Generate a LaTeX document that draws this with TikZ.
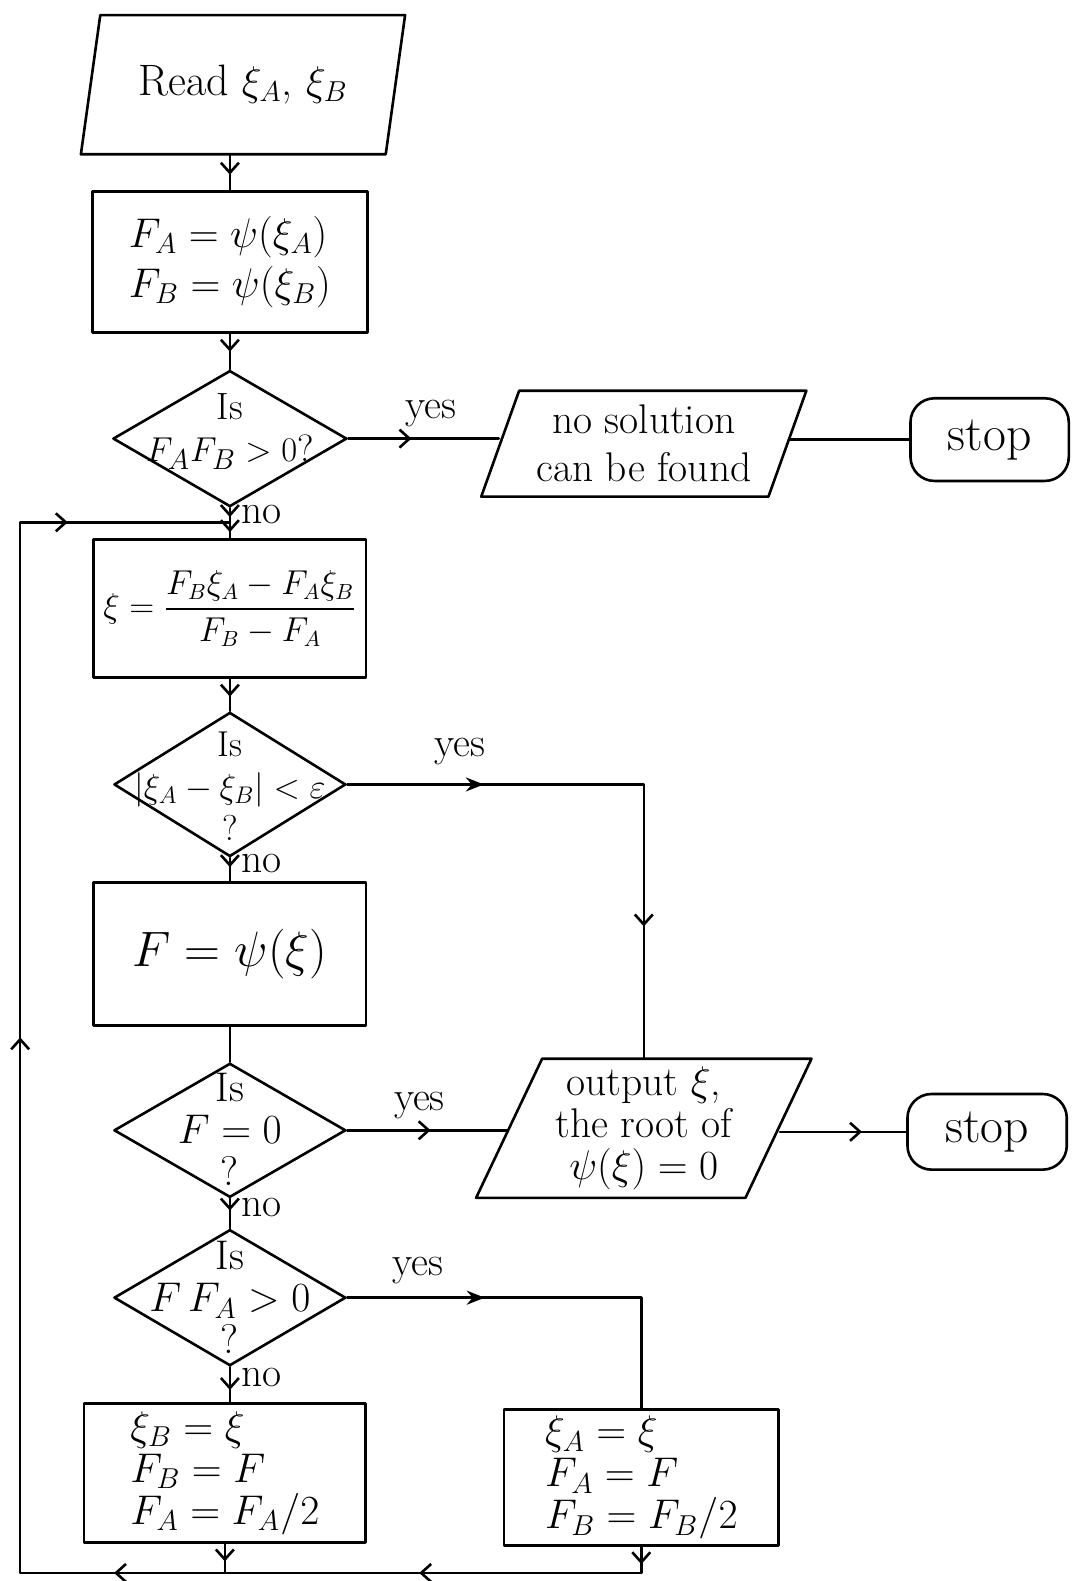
\documentclass[tikz,border=0pt]{standalone}
\usepackage{amsmath}
\usetikzlibrary{shapes.geometric,arrows.meta,decorations.markings}
\newcommand{\pxu}{0.50425pt}
\begin{document}
\begin{tikzpicture}[x=0.50425pt,y=-0.50425pt,
  line width=1.3pt, line cap=round, line join=round,
  txt/.style={font=\fontsize{20.74}{21}\selectfont, align=center, inner sep=0pt},
  dtxt/.style={font=\fontsize{19}{21}\selectfont, align=center, inner sep=0pt},
  lab/.style={font=\fontsize{20.74}{20}\selectfont, inner sep=0pt},
  proc/.style n args={2}{draw, rectangle, minimum width=#1*\pxu, minimum height=#2*\pxu, inner sep=0pt, txt},
  dec/.style n args={2}{draw, diamond, minimum width=#1*\pxu, minimum height=#2*\pxu, inner sep=0pt},
  io/.style n args={4}{draw, trapezium, trapezium left angle=#3, trapezium right angle=#4, trapezium stretches=true, minimum width=#1*\pxu, minimum height=#2*\pxu, inner sep=0pt, txt},
  term/.style n args={2}{draw, rectangle, rounded corners=12pt, minimum width=#1*\pxu, minimum height=#2*\pxu, inner sep=0pt, font=\fontsize{24.88}{24}\selectfont},
  opentip/.tip={Straight Barb[length=5pt,width=9pt]},
  filltip/.tip={Stealth[length=9pt,width=7pt]},
  arr/.style={postaction={decorate}, decoration={markings, mark=at position #1 with {\arrow{opentip}}}},
  arrtwo/.style 2 args={postaction={decorate}, decoration={markings, mark=at position #1 with {\arrow{opentip}}, mark=at position #2 with {\arrow{opentip}}}},
  farr/.style={postaction={decorate}, decoration={markings, mark=at position #1 with {\arrow{filltip}}}},
  mixtwo/.style 2 args={postaction={decorate}, decoration={markings, mark=at position #1 with {\arrow{filltip}}, mark=at position #2 with {\arrow{opentip}}}}
]
\useasboundingbox (0,0) rectangle (1063,1568);

% nodes
\node[io={322}{138}{70}{110}, font=\fontsize{22}{22}\selectfont] (p1) at (241,84) {Read $\xi_A$, $\xi_B$};
\node[proc={273}{140}, align=left] (b1) at (228,260) {$F_A=\psi(\xi_A)$\\[4pt]$F_B=\psi(\xi_B)$};
\node[dec={232}{135}] (d1) at (228,435) {};
\node[dtxt] (t1) at (228,428) {Is\\$F_AF_B>0$?};
\node[io={323}{105}{67}{113}] (p2) at (638.5,440) {no solution\\[3pt]can be found};
\node[term={157}{82}] (s1) at (981.5,436) {stop};

\node[proc={270}{137}, font=\fontsize{16}{18}\selectfont] (b2) at (228,603.5) {$\xi=\dfrac{F_B\xi_A-F_A\xi_B}{F_B-F_A}$};
\node[dec={230}{143}] (d2) at (228,778) {};
\node[dtxt, font=\fontsize{18}{21}\selectfont] (t2) at (228,780) {Is\\$|\xi_A-\xi_B|<\varepsilon$\\?};

\node[proc={270}{142}, font=\fontsize{28}{28}\selectfont] (b3) at (228,946) {$F=\psi(\xi)$};
\node[dec={230}{133}] (d3) at (228,1121) {};
\node[dtxt, font=\fontsize{20.74}{21}\selectfont] (t3) at (228,1120) {Is\\$F=0$\\?};
\node[io={333}{138}{65}{115}] (p3) at (638.5,1119) {output $\xi$,\\the root of\\$\psi(\xi)=0$};
\node[term={158}{75}] (s2) at (979,1122.5) {stop};

\node[dec={230}{135}] (d4) at (228,1287) {};
\node[dtxt, font=\fontsize{20.74}{21}\selectfont] (t4) at (228,1287) {Is\\$F\,F_A>0$\\?};
\node[proc={279}{138}, align=left] (b4) at (223,1461) {$\xi_B=\xi$\\$F_B=F$\\$F_A=F_A/2$};
\node[proc={272}{135}, align=left] (b5) at (636,1465.5) {$\xi_A=\xi$\\$F_A=F$\\$F_B=F_B/2$};

\coordinate (lb) at (20,1560);
\coordinate (lt) at (20,518);

% connectors
\draw[arr=0.55] (b1.north |- p1.south) -- (b1.north);
\draw[arr=0.5] (b1.south) -- (d1.north);
\draw[arr=0.42] (d1.east) -- (p2.west |- d1.east)
  node[lab, pos=0.55, above=5pt] (y1) {yes};
\draw (p2.east |- s1.west) -- (s1.west);
\draw[arrtwo={0.3}{0.8}] (d1.south) -- (b2.north)
  node[lab, pos=0.2, anchor=west, xshift=5pt] (n1) {no};
\draw[arr=0.55] (b2.south) -- (d2.north);
\draw[mixtwo={0.24}{0.77}] (d2.east) -- node[lab, pos=0.38, above=9pt] (y2) {yes}
  (d2.east -| p3.north) -- (p3.north);
\draw[arr=0.4] (d2.south) -- (b3.north)
  node[lab, pos=0.25, anchor=west, xshift=5pt] (n2) {no};
\draw (b3.south) -- (d3.north);
\draw[arr=0.52] (d3.east) -- (p3.west |- d3.east)
  node[lab, pos=0.45, above=5pt] (y3) {yes};
\draw[arr=0.65] (p3.east |- s2.west) -- (s2.west);
\draw[arr=0.4] (d3.south) -- (d4.north)
  node[lab, pos=0.3, anchor=west, xshift=5pt] (n3) {no};
\draw[farr=0.34] (d4.east) -- node[lab, pos=0.24, above=6pt] (y4) {yes}
  (d4.east -| b5.north) -- (b5.north);
\draw[arr=0.65] (d4.south) -- (d4.south |- b4.north)
  node[lab, pos=0.3, anchor=west, xshift=5pt] (n4) {no};
\draw[arr=0.6] (b4.south) -- (b4.south |- lb);
\draw[postaction={decorate}, decoration={markings,
    mark=at position 0.009 with {\arrow{opentip}},
    mark=at position 0.13 with {\arrow{opentip}},
    mark=at position 0.29 with {\arrow{opentip}},
    mark=at position 0.62 with {\arrow{opentip}},
    mark=at position 0.915 with {\arrow{opentip}}}]
  (b5.south) -- (b5.south |- lb) -- (lb) -- (lt) -- (lt -| b2.north);
\end{tikzpicture}
\end{document}
